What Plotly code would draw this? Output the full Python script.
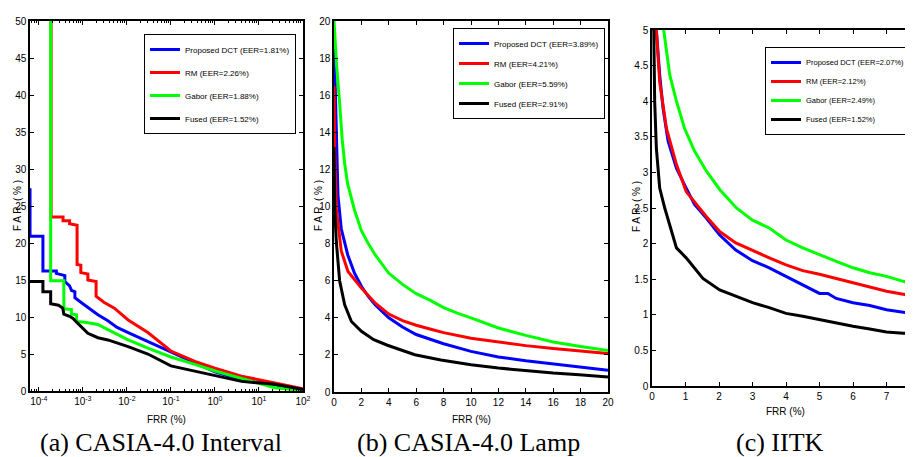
import plotly.graph_objects as go

W, H = 913, 457

names = ["Proposed DCT", "RM", "Gabor", "Fused"]
colors = ["#0000FF", "#FF0000", "#00FF00", "#000000"]
eer_a = ["1.81%", "2.26%", "1.88%", "1.52%"]
eer_b = ["3.89%", "4.21%", "5.59%", "2.91%"]
eer_c = ["2.07%", "2.12%", "2.49%", "1.52%"]

# ---- (a) CASIA-4.0 Interval (log FRR axis) ----
a_dct_x = [6.32e-5, 6.32e-5, 1.24e-4, 1.24e-4, 2.5e-4, 2.5e-4, 3.9e-4, 3.9e-4, 5.0e-4, 5.5e-4, 6.6e-4, 6.6e-4,
           1.0e-3, 1.5e-3, 2.2e-3, 3.7e-3, 6.0e-3, 1.07e-2, 3.0e-2, 0.1, 0.35, 1.0, 4.0, 23.0, 100.0]
a_dct_y = [27.4, 20.9, 20.9, 16.2, 16.2, 15.9, 15.6, 14.8, 14.2, 13.6, 13.4, 12.6,
           11.8, 11.0, 10.3, 9.5, 8.6, 7.9, 6.7, 5.3, 3.8, 2.6, 1.5, 0.85, 0.1]
a_rm_x = [1.9e-4, 1.9e-4, 3.55e-4, 3.55e-4, 5.0e-4, 5.0e-4, 7.4e-4, 7.4e-4, 9.0e-4, 9.0e-4, 1.3e-3, 1.3e-3,
          2.0e-3, 2.0e-3, 3.0e-3, 5.2e-3, 1.07e-2, 3.0e-2, 0.1, 0.35, 1.0, 4.0, 23.0, 100.0]
a_rm_y = [60.0, 23.5, 23.5, 23.0, 23.0, 22.6, 22.4, 17.1, 17.0, 16.0, 15.8, 15.0,
          14.8, 12.8, 12.0, 11.2, 9.6, 7.9, 5.4, 4.0, 3.1, 2.0, 1.1, 0.3]
a_gabor_x = [1.86e-4, 1.86e-4, 3.7e-4, 3.7e-4, 5.5e-4, 5.5e-4, 7.2e-4, 7.2e-4, 1.1e-3, 2.2e-3, 3.7e-3,
             1.07e-2, 3.0e-2, 0.1, 0.35, 1.0, 4.0, 23.0, 100.0]
a_gabor_y = [60.0, 14.9, 14.9, 11.1, 11.0, 10.4, 10.3, 9.4, 9.3, 9.0, 8.3,
             6.9, 5.8, 4.6, 3.6, 2.7, 1.7, 0.45, 0.05]
a_fused_x = [6.32e-5, 1.24e-4, 1.24e-4, 1.86e-4, 1.86e-4, 2.8e-4, 3.5e-4, 3.7e-4, 5.0e-4, 6.0e-4, 7.5e-4,
             1.0e-3, 1.3e-3, 2.2e-3, 3.7e-3, 1.07e-2, 3.0e-2, 0.1, 0.35, 1.0, 4.0, 23.0, 100.0]
a_fused_y = [14.8, 14.8, 13.4, 13.4, 11.8, 11.6, 11.2, 10.4, 10.1, 9.8, 9.2,
             8.5, 7.8, 7.2, 6.9, 6.0, 5.0, 3.4, 2.7, 2.1, 1.3, 0.9, 0.2]

# ---- (b) CASIA-4.0 Lamp ----
b_dct_x = [0.02, 0.05, 0.17, 0.29, 0.53, 1.0, 1.5, 2.0, 2.5, 3.0, 4.0, 5.0, 6.0, 7.0, 8.0, 10.0, 12.0, 14.0,
           16.0, 18.0, 20.0]
b_dct_y = [18.5, 17.5, 13.9, 10.6, 8.8, 7.4, 6.4, 5.7, 5.15, 4.7, 4.0, 3.5, 3.1, 2.85, 2.6, 2.19, 1.89, 1.68,
           1.51, 1.36, 1.17]
b_rm_x = [0.0, 0.05, 0.17, 0.53, 1.02, 1.5, 2.0, 3.0, 4.0, 5.0, 6.0, 7.0, 8.0, 10.0, 12.0, 14.0, 16.0, 18.0, 20.0]
b_rm_y = [16.5, 13.0, 9.9, 7.6, 6.5, 6.05, 5.6, 4.8, 4.2, 3.85, 3.6, 3.4, 3.2, 2.9, 2.68, 2.5, 2.35, 2.2, 2.07]
b_gabor_x = [0.0, 0.2, 0.42, 0.6, 0.78, 1.0, 1.5, 2.0, 2.5, 3.0, 4.0, 5.0, 6.0, 7.0, 8.0, 9.0, 10.0, 12.0,
             14.0, 16.0, 18.0, 20.0]
b_gabor_y = [20.0, 17.5, 15.5, 13.6, 12.3, 11.2, 9.8, 8.7, 8.0, 7.4, 6.4, 5.8, 5.3, 4.95, 4.55, 4.25, 4.0, 3.45,
             3.05, 2.7, 2.45, 2.23]
b_fused_x = [0.0, 0.05, 0.17, 0.41, 0.78, 1.27, 2.0, 2.9, 3.9, 5.9, 7.8, 10.0, 12.0, 13.9, 16.0, 17.9, 20.0]
b_fused_y = [13.2, 9.9, 8.1, 6.0, 4.7, 3.8, 3.27, 2.82, 2.52, 2.01, 1.73, 1.47, 1.29, 1.15, 1.02, 0.93, 0.81]

# ---- (c) IITK ----
c_dct_x = [0.0, 0.13, 0.23, 0.33, 0.48, 0.73, 1.02, 1.27, 1.62, 2.02, 2.5, 3.0, 3.5, 4.0, 4.5, 5.0, 5.25,
           5.5, 6.0, 6.5, 7.0, 7.5, 8.0]
c_dct_y = [7.0, 5.0, 4.37, 3.9, 3.44, 3.06, 2.78, 2.55, 2.36, 2.12, 1.91, 1.76, 1.66, 1.54, 1.43, 1.30, 1.30,
           1.23, 1.17, 1.13, 1.07, 1.04, 1.00]
c_rm_x = [0.0, 0.13, 0.23, 0.43, 0.73, 1.02, 1.62, 2.02, 2.5, 3.0, 3.5, 4.0, 4.5, 5.0, 5.5, 6.0, 6.5, 7.0, 7.5, 8.0]
c_rm_y = [7.0, 5.0, 4.27, 3.62, 3.11, 2.73, 2.38, 2.17, 2.01, 1.90, 1.80, 1.70, 1.62, 1.57, 1.51, 1.46, 1.39,
          1.33, 1.29, 1.23]
c_gabor_x = [0.1, 0.35, 0.53, 0.73, 0.97, 1.27, 1.62, 2.02, 2.52, 3.0, 3.5, 4.0, 4.5, 5.0, 5.5, 6.0, 6.5, 7.0,
             7.5, 8.0]
c_gabor_y = [7.0, 5.0, 4.37, 4.0, 3.62, 3.30, 3.02, 2.76, 2.5, 2.33, 2.22, 2.05, 1.94, 1.84, 1.75, 1.66, 1.59,
             1.54, 1.47, 1.43]
c_fused_x = [0.0, 0.05, 0.08, 0.13, 0.23, 0.38, 0.73, 1.02, 1.52, 2.02, 2.5, 3.0, 3.5, 4.0, 4.5, 5.0, 5.5, 6.0,
             6.5, 7.0, 7.5, 8.0]
c_fused_y = [7.0, 5.0, 4.0, 3.34, 2.78, 2.5, 1.94, 1.80, 1.51, 1.35, 1.26, 1.17, 1.10, 1.02, 0.98, 0.93, 0.88,
             0.84, 0.80, 0.76, 0.74, 0.74]

a_xtickvals = [1e-4, 1e-3, 1e-2, 1e-1, 1e0, 1e1, 1e2]
a_xticktext = ["10<sup>-4</sup>", "10<sup>-3</sup>", "10<sup>-2</sup>", "10<sup>-1</sup>",
               "10<sup>0</sup>", "10<sup>1</sup>", "10<sup>2</sup>"]
captions = ["(a) CASIA-4.0 Interval", "(b) CASIA-4.0 Lamp", "(c) IITK"]

SANS = "Liberation Sans Narrow, Arial Narrow, Liberation Sans, Arial, sans-serif"

fig = go.Figure()

panels = [
    ("x", "y", "legend", "a", eer_a, [(a_dct_x, a_dct_y), (a_rm_x, a_rm_y), (a_gabor_x, a_gabor_y), (a_fused_x, a_fused_y)]),
    ("x2", "y2", "legend2", "b", eer_b, [(b_dct_x, b_dct_y), (b_rm_x, b_rm_y), (b_gabor_x, b_gabor_y), (b_fused_x, b_fused_y)]),
    ("x3", "y3", "legend3", "c", eer_c, [(c_dct_x, c_dct_y), (c_rm_x, c_rm_y), (c_gabor_x, c_gabor_y), (c_fused_x, c_fused_y)]),
]
for xa, ya, leg, tag, eers, series in panels:
    for (xs, ys), nm, col, e in zip(series, names, colors, eers):
        fig.add_trace(go.Scatter(x=xs, y=ys, mode="lines", xaxis=xa, yaxis=ya,
                                 line=dict(color=col, width=3), name=f"{nm} (EER={e})",
                                 legend=leg, legendgroup=f"{tag}-{nm}"))

def px_x(p):
    return p / W

def px_y(p):
    return 1 - p / H

axis_common = dict(showline=True, linecolor="black", linewidth=1.5, mirror="ticks",
                   ticks="inside", ticklen=4, tickcolor="black", tickwidth=1,
                   showgrid=False, zeroline=False, automargin=False,
                   tickfont=dict(family=SANS, size=10, color="black"))

def legend_cfg(x_right, y_top, size, gap):
    return dict(x=px_x(x_right), y=px_y(y_top), xanchor="right", yanchor="top",
                bgcolor="white", bordercolor="black", borderwidth=1,
                font=dict(family=SANS, size=size, color="black"),
                itemwidth=30, tracegroupgap=gap)

fig.update_layout(
    width=W, height=H, margin=dict(l=0, r=0, t=0, b=0),
    paper_bgcolor="white", plot_bgcolor="white",
    xaxis=dict(domain=[px_x(22), px_x(295)], type="log", range=[-4.2, 2], anchor="y",
               tickvals=a_xtickvals, ticktext=a_xticktext,
               minor=dict(ticks="inside", ticklen=2, tickcolor="black",
                          tickvals=[m * 10 ** k for k in range(-5, 2) for m in range(2, 10)]),
               **axis_common),
    yaxis=dict(domain=[px_y(383), px_y(13)], range=[0, 50], dtick=5, anchor="x", **axis_common),
    xaxis2=dict(domain=[px_x(326), px_x(600)], range=[0, 20], dtick=2, anchor="y2", **axis_common),
    yaxis2=dict(domain=[px_y(384), px_y(13)], range=[0, 20], dtick=2, anchor="x2", **axis_common),
    xaxis3=dict(domain=[px_x(644), px_x(912)], range=[0, 8], dtick=1, anchor="y3", **axis_common),
    yaxis3=dict(domain=[px_y(378), px_y(22)], range=[0, 5], dtick=0.5, anchor="x3", **axis_common),
    legend=legend_cfg(288, 26, 8, 4),
    legend2=legend_cfg(597, 20, 8, 1),
    legend3=legend_cfg(903, 39, 7.5, 0),
    showlegend=True,
)

annots = []
# x-axis titles
for cx, cy in [(158.5, 411), (463, 411), (777, 403)]:
    annots.append(dict(x=px_x(cx), y=px_y(cy), xref="paper", yref="paper", text="FRR (%)",
                       xanchor="center", yanchor="middle",
                       showarrow=False, font=dict(family=SANS, size=10, color="black")))
# y-axis titles
for cx, cy in [(9, 198), (310, 198), (628, 199)]:
    annots.append(dict(x=px_x(cx), y=px_y(cy), xref="paper", yref="paper", text="F A R  ( % )",
                       xanchor="center", yanchor="middle", textangle=-90, showarrow=False,
                       font=dict(family="Liberation Sans, Arial, sans-serif", size=10, color="black")))
# captions
for cx, txt in zip([153, 460, 772], captions):
    annots.append(dict(x=px_x(cx), y=px_y(434), xref="paper", yref="paper", text=txt,
                       xanchor="center", yanchor="middle", showarrow=False,
                       font=dict(family="Liberation Serif, Times New Roman, serif", size=26, color="black")))
fig.update_layout(annotations=annots)

fig.write_html("out.html")
